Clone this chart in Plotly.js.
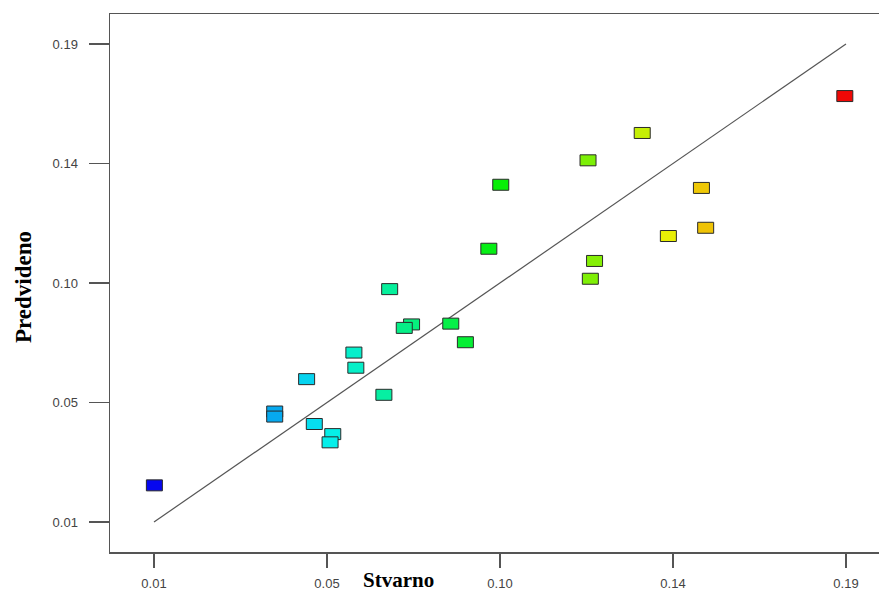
<!DOCTYPE html>
<html>
<head>
<meta charset="utf-8">
<script src="https://cdn.plot.ly/plotly-3.0.1.min.js"></script>
<style>html,body{margin:0;padding:0;background:#fff;}#chart{width:879px;height:594px;}</style>
</head>
<body>
<div id="chart"></div>
<script>
// Actual (Stvarno) values
var actual = [0.0101, 0.0414, 0.0414, 0.0517, 0.0565, 0.0558, 0.0497, 0.0620, 0.0625, 0.0698,
              0.0713, 0.0770, 0.0751, 0.0872, 0.0910, 0.0971, 0.1002, 0.1229, 0.1370, 0.1246,
              0.1235, 0.1438, 0.1524, 0.1535, 0.1897];
// Predicted (Predvideno) values
var predicted = [0.0238, 0.0516, 0.0497, 0.0469, 0.0431, 0.0400, 0.0638, 0.0738, 0.0681, 0.0579,
                 0.0977, 0.0844, 0.0831, 0.0847, 0.0777, 0.1129, 0.1370, 0.1462, 0.1565, 0.1083,
                 0.1016, 0.1177, 0.1358, 0.1208, 0.1704];
// Ideal line endpoints
var lineX = [0.01, 0.19];
var lineY = [0.01, 0.19];
// Tick positions and labels
var tickVals = [0.01, 0.055, 0.10, 0.145, 0.19];
var tickText = ['0.01', '0.05', '0.10', '0.14', '0.19'];

var vmin = 0.01, vmax = 0.19;
function colorFor(v) {
  var t = Math.max(0, Math.min(1, (v - vmin) / (vmax - vmin)));
  var h = 240 * (1 - t);
  return 'hsl(' + h.toFixed(1) + ',95%,48%)';
}

var shapes = actual.map(function (xv, i) {
  return {
    type: 'rect', xref: 'x', yref: 'y',
    xsizemode: 'pixel', ysizemode: 'pixel',
    xanchor: xv, yanchor: predicted[i],
    x0: -8, x1: 8, y0: -5.5, y1: 5.5,
    fillcolor: colorFor(xv),
    line: {color: '#2a2a2a', width: 1},
    layer: 'above'
  };
});

var traces = [
  {x: lineX, y: lineY, mode: 'lines', type: 'scatter',
   line: {color: '#555', width: 1.2}, hoverinfo: 'skip', showlegend: false},
  {x: actual, y: predicted, mode: 'markers', type: 'scatter',
   marker: {size: 1, opacity: 0}, showlegend: false}
];

var axisFont = {family: 'Liberation Sans, Arial, sans-serif', size: 13, color: '#444'};

var layout = {
  width: 879, height: 594,
  margin: {l: 110, r: 0, t: 14, b: 42},
  paper_bgcolor: '#fff', plot_bgcolor: '#fff',
  showlegend: false,
  xaxis: {
    range: [-0.001445, 0.19859], tickmode: 'array', tickvals: tickVals, ticktext: tickText,
    showgrid: false, zeroline: false, showline: true, mirror: true,
    linecolor: '#555', linewidth: 1.5,
    ticks: 'outside', ticklen: 14, tickwidth: 1.5, tickcolor: '#555',
    tickfont: axisFont, ticklabelstandoff: 5
  },
  yaxis: {
    range: [-0.0013, 0.2013], tickmode: 'array', tickvals: tickVals, ticktext: tickText,
    showgrid: false, zeroline: false, showline: true, mirror: true,
    linecolor: '#555', linewidth: 1.5,
    ticks: 'outside', ticklen: 20, tickwidth: 1.5, tickcolor: '#555',
    tickfont: axisFont, ticklabelstandoff: 8
  },
  shapes: shapes,
  annotations: [
    {text: '<b>Stvarno</b>', xref: 'paper', yref: 'paper', x: (398 - 110) / 769, y: 0,
     yshift: -28, xanchor: 'center', yanchor: 'middle', showarrow: false, borderpad: 0,
     font: {family: 'Liberation Serif, Times New Roman, serif', size: 21, color: '#000'}},
    {text: '<b>Predvideno</b>', xref: 'paper', yref: 'paper', x: 0, xshift: -87,
     y: (552 - 287) / 538, xanchor: 'center', yanchor: 'middle', textangle: -90, showarrow: false,
     font: {family: 'Liberation Serif, Times New Roman, serif', size: 23, color: '#000'}}
  ]
};

Plotly.newPlot('chart', traces, layout, {displayModeBar: false, staticPlot: true});
</script>
</body>
</html>
